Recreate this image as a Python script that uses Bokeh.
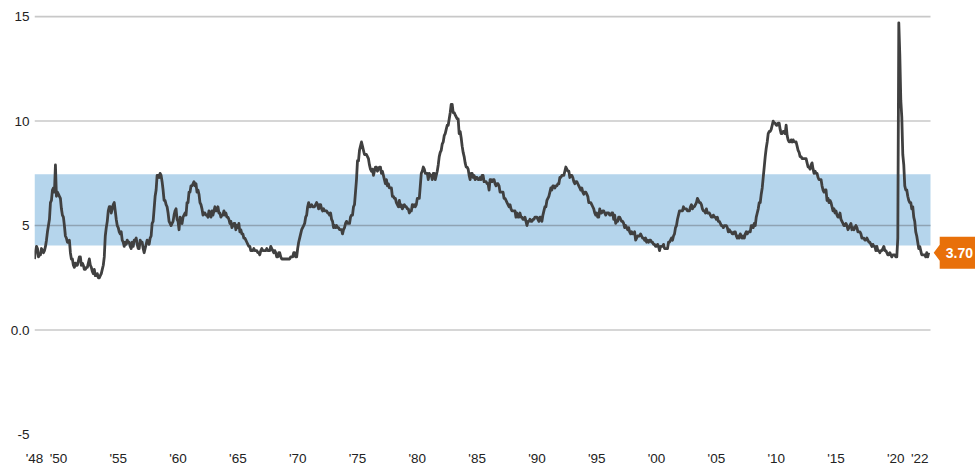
import numpy as np
from bokeh.plotting import figure
from bokeh.models import (Range1d, FixedTicker, BoxAnnotation, Label,
                          ColumnDataSource)
from bokeh.embed import file_html
from bokeh.resources import INLINE

# Monthly unemployment rate (%), Jan 1948 - Oct 2022
rate_1948_1949 = [3.4, 3.8, 4.0, 3.9, 3.5, 3.6, 3.6, 3.9, 3.8, 3.7, 3.8, 4.0,
                  4.3, 4.7, 5.0, 5.3, 6.1, 6.2, 6.7, 6.8, 6.6, 7.9, 6.4, 6.6]
rate_1950s = [6.5, 6.4, 6.3, 5.8, 5.5, 5.4, 5.0, 4.5, 4.4, 4.2, 4.2, 4.3,
              3.7, 3.4, 3.4, 3.1, 3.0, 3.2, 3.1, 3.1, 3.3, 3.5, 3.5, 3.1,
              3.2, 3.1, 2.9, 2.9, 3.0, 3.0, 3.2, 3.4, 3.1, 3.0, 2.8, 2.7,
              2.9, 2.6, 2.6, 2.7, 2.5, 2.5, 2.6, 2.7, 2.9, 3.1, 3.5, 4.5,
              4.9, 5.2, 5.7, 5.9, 5.9, 5.6, 5.8, 6.0, 6.1, 5.7, 5.3, 5.0,
              4.9, 4.7, 4.6, 4.7, 4.3, 4.2, 4.0, 4.2, 4.1, 4.3, 4.2, 4.2,
              4.0, 3.9, 4.2, 4.0, 4.3, 4.3, 4.4, 4.1, 3.9, 3.9, 4.3, 4.2,
              4.2, 3.9, 3.7, 3.9, 4.1, 4.3, 4.2, 4.1, 4.4, 4.5, 5.1, 5.2,
              5.8, 6.4, 6.7, 7.4, 7.4, 7.3, 7.5, 7.4, 7.1, 6.7, 6.2, 6.2,
              6.0, 5.9, 5.6, 5.2, 5.1, 5.0, 5.1, 5.2, 5.5, 5.7, 5.8, 5.3]
rate_1960s = [5.2, 4.8, 5.4, 5.2, 5.1, 5.4, 5.5, 5.6, 5.5, 6.1, 6.1, 6.6,
              6.6, 6.9, 6.9, 7.0, 7.1, 6.9, 7.0, 6.6, 6.7, 6.5, 6.1, 6.0,
              5.8, 5.5, 5.6, 5.6, 5.5, 5.5, 5.4, 5.7, 5.6, 5.4, 5.7, 5.5,
              5.7, 5.9, 5.7, 5.7, 5.9, 5.6, 5.6, 5.4, 5.5, 5.5, 5.7, 5.5,
              5.6, 5.4, 5.4, 5.3, 5.1, 5.2, 4.9, 5.0, 5.1, 5.1, 4.8, 5.0,
              4.9, 5.1, 4.7, 4.8, 4.6, 4.6, 4.4, 4.4, 4.3, 4.2, 4.1, 4.0,
              4.0, 3.8, 3.8, 3.8, 3.9, 3.8, 3.8, 3.8, 3.7, 3.7, 3.6, 3.8,
              3.9, 3.8, 3.8, 3.8, 3.8, 3.9, 3.8, 3.8, 3.8, 4.0, 3.9, 3.8,
              3.7, 3.8, 3.7, 3.5, 3.5, 3.7, 3.7, 3.5, 3.4, 3.4, 3.4, 3.4,
              3.4, 3.4, 3.4, 3.4, 3.4, 3.5, 3.5, 3.5, 3.7, 3.7, 3.5, 3.5]
rate_1970s = [3.9, 4.2, 4.4, 4.6, 4.8, 4.9, 5.0, 5.1, 5.4, 5.5, 5.9, 6.1,
              5.9, 5.9, 6.0, 5.9, 5.9, 5.9, 6.0, 6.1, 6.0, 5.8, 6.0, 6.0,
              5.8, 5.7, 5.8, 5.7, 5.7, 5.7, 5.6, 5.6, 5.5, 5.6, 5.3, 5.2,
              4.9, 5.0, 4.9, 5.0, 4.9, 4.9, 4.8, 4.8, 4.8, 4.6, 4.8, 4.9,
              5.1, 5.2, 5.1, 5.1, 5.1, 5.4, 5.5, 5.5, 5.9, 6.0, 6.6, 7.2,
              8.1, 8.1, 8.6, 8.8, 9.0, 8.8, 8.6, 8.4, 8.4, 8.4, 8.3, 8.2,
              7.9, 7.7, 7.6, 7.7, 7.4, 7.6, 7.8, 7.8, 7.6, 7.7, 7.8, 7.8,
              7.5, 7.6, 7.4, 7.2, 7.0, 7.2, 6.9, 7.0, 6.8, 6.8, 6.8, 6.4,
              6.4, 6.3, 6.3, 6.1, 6.0, 5.9, 6.2, 5.9, 6.0, 5.8, 5.9, 6.0,
              5.9, 5.9, 5.8, 5.8, 5.6, 5.7, 5.7, 6.0, 5.9, 6.0, 5.9, 6.0]
rate_1980s = [6.3, 6.3, 6.3, 6.9, 7.5, 7.6, 7.8, 7.7, 7.5, 7.5, 7.5, 7.2,
              7.5, 7.4, 7.4, 7.2, 7.5, 7.5, 7.2, 7.4, 7.6, 7.9, 8.3, 8.5,
              8.6, 8.9, 9.0, 9.3, 9.4, 9.6, 9.8, 9.8, 10.1, 10.4, 10.8, 10.8,
              10.4, 10.4, 10.3, 10.2, 10.1, 10.1, 9.4, 9.5, 9.2, 8.8, 8.5, 8.3,
              8.0, 7.8, 7.8, 7.7, 7.4, 7.2, 7.5, 7.5, 7.3, 7.4, 7.2, 7.3,
              7.3, 7.2, 7.2, 7.3, 7.2, 7.4, 7.4, 7.1, 7.1, 7.1, 7.0, 7.0,
              6.7, 7.2, 7.2, 7.1, 7.2, 7.2, 7.0, 6.9, 7.0, 7.0, 6.9, 6.6,
              6.6, 6.6, 6.6, 6.3, 6.3, 6.2, 6.1, 6.0, 5.9, 6.0, 5.8, 5.7,
              5.7, 5.7, 5.7, 5.4, 5.6, 5.4, 5.4, 5.6, 5.4, 5.4, 5.3, 5.3,
              5.4, 5.2, 5.0, 5.2, 5.2, 5.3, 5.2, 5.2, 5.3, 5.3, 5.4, 5.4]
rate_1990s = [5.4, 5.3, 5.2, 5.4, 5.4, 5.2, 5.5, 5.7, 5.9, 5.9, 6.2, 6.3,
              6.4, 6.6, 6.8, 6.7, 6.9, 6.9, 6.8, 6.9, 6.9, 7.0, 7.0, 7.3,
              7.3, 7.4, 7.4, 7.4, 7.6, 7.8, 7.7, 7.6, 7.6, 7.3, 7.4, 7.4,
              7.3, 7.1, 7.0, 7.1, 7.1, 7.0, 6.9, 6.8, 6.7, 6.8, 6.6, 6.5,
              6.6, 6.6, 6.5, 6.4, 6.1, 6.1, 6.1, 6.0, 5.9, 5.8, 5.6, 5.5,
              5.6, 5.4, 5.4, 5.8, 5.6, 5.6, 5.7, 5.7, 5.6, 5.5, 5.6, 5.6,
              5.6, 5.5, 5.5, 5.6, 5.6, 5.3, 5.5, 5.1, 5.2, 5.2, 5.4, 5.4,
              5.3, 5.2, 5.2, 5.1, 4.9, 5.0, 4.9, 4.8, 4.9, 4.7, 4.6, 4.7,
              4.6, 4.6, 4.7, 4.3, 4.4, 4.5, 4.5, 4.5, 4.6, 4.5, 4.4, 4.4,
              4.3, 4.4, 4.2, 4.3, 4.2, 4.3, 4.3, 4.2, 4.2, 4.1, 4.1, 4.0]
rate_2000s = [4.0, 4.1, 4.0, 3.8, 4.0, 4.0, 4.0, 4.1, 3.9, 3.9, 3.9, 3.9,
              4.2, 4.2, 4.3, 4.4, 4.3, 4.5, 4.6, 4.9, 5.0, 5.3, 5.5, 5.7,
              5.7, 5.7, 5.7, 5.9, 5.8, 5.8, 5.8, 5.7, 5.7, 5.7, 5.9, 6.0,
              5.8, 5.9, 5.9, 6.0, 6.1, 6.3, 6.2, 6.1, 6.1, 6.0, 5.8, 5.7,
              5.7, 5.6, 5.8, 5.6, 5.6, 5.6, 5.5, 5.4, 5.4, 5.5, 5.4, 5.4,
              5.3, 5.4, 5.2, 5.2, 5.1, 5.0, 5.0, 4.9, 5.0, 5.0, 5.0, 4.9,
              4.7, 4.8, 4.7, 4.7, 4.6, 4.6, 4.7, 4.7, 4.5, 4.4, 4.5, 4.4,
              4.6, 4.5, 4.4, 4.5, 4.4, 4.6, 4.7, 4.6, 4.7, 4.7, 4.7, 5.0,
              5.0, 4.9, 5.1, 5.0, 5.4, 5.6, 5.8, 6.1, 6.1, 6.5, 6.8, 7.3,
              7.8, 8.3, 8.7, 9.0, 9.4, 9.5, 9.5, 9.6, 9.8, 10.0, 9.9, 9.9]
rate_2010s = [9.8, 9.8, 9.9, 9.9, 9.6, 9.4, 9.4, 9.5, 9.5, 9.4, 9.8, 9.3,
              9.1, 9.0, 9.0, 9.1, 9.0, 9.1, 9.0, 9.0, 9.0, 8.8, 8.6, 8.5,
              8.3, 8.3, 8.2, 8.2, 8.2, 8.2, 8.2, 8.0, 7.8, 7.8, 7.7, 7.9,
              8.0, 7.7, 7.5, 7.6, 7.5, 7.5, 7.3, 7.2, 7.2, 7.2, 6.9, 6.7,
              6.6, 6.7, 6.7, 6.2, 6.3, 6.1, 6.2, 6.1, 5.9, 5.7, 5.8, 5.6,
              5.7, 5.5, 5.4, 5.4, 5.6, 5.3, 5.2, 5.1, 5.0, 5.0, 5.1, 5.0,
              4.8, 4.9, 5.0, 5.1, 4.8, 4.9, 4.8, 4.9, 5.0, 4.9, 4.7, 4.7,
              4.7, 4.6, 4.4, 4.4, 4.4, 4.3, 4.3, 4.4, 4.3, 4.2, 4.2, 4.1,
              4.0, 4.1, 4.0, 4.0, 3.8, 4.0, 3.8, 3.8, 3.7, 3.8, 3.8, 3.9,
              4.0, 3.8, 3.8, 3.7, 3.6, 3.6, 3.7, 3.6, 3.5, 3.6, 3.6, 3.6]
rate_2020s = [3.5, 3.5, 4.4, 14.7, 13.2, 11.0, 10.2, 8.4, 7.9, 6.9, 6.7, 6.7,
              6.4, 6.2, 6.1, 6.1, 5.8, 5.9, 5.4, 5.2, 4.7, 4.5, 4.2, 3.9,
              4.0, 3.8, 3.6, 3.6, 3.6, 3.6, 3.5, 3.7, 3.5, 3.7]

start_year = 1948
band_low, band_high = 4.04, 7.46      # shaded range
reference_level = 5

x_ticks = [1948, 1950, 1955, 1960, 1965, 1970, 1975, 1980, 1985, 1990,
           1995, 2000, 2005, 2010, 2015, 2020, 2022]
x_tick_labels = ["'48", "'50", "'55", "'60", "'65", "'70", "'75", "'80", "'85",
                 "'90", "'95", "'00", "'05", "'10", "'15", "'20", "'22"]
y_ticks = [-5, 0, 5, 10, 15]
y_tick_labels = ["-5", "0.0", "5", "10", "15"]
grid_ticks = [0, 10, 15]

values = np.array(rate_1948_1949 + rate_1950s + rate_1960s + rate_1970s +
                  rate_1980s + rate_1990s + rate_2000s + rate_2010s + rate_2020s)
xs = start_year + np.arange(len(values)) / 12.0
src = ColumnDataSource(dict(x=xs, y=values))

# geometry
W, H = 975, 470
BL, BR, BT, BB = 34, 0, 14, 36
ppx = 896 / 74.9                       # pixels per year
x0 = 1948.0
grid_end = 2022.9                      # where gridlines / band stop
x1 = x0 + (W - BL - BR) / ppx
y0, y1 = -5.0, 15.1
FONT = "Liberation Sans"

p = figure(width=W, height=H, output_backend="svg", toolbar_location=None,
           x_range=Range1d(x0, x1), y_range=Range1d(y0, y1),
           min_border_left=BL, min_border_right=BR, min_border_top=BT,
           min_border_bottom=BB)
p.outline_line_color = None
p.background_fill_color = "white"
p.border_fill_color = "white"
p.xgrid.visible = False
p.ygrid.visible = False

band = BoxAnnotation(left=x0, right=grid_end, bottom=band_low, top=band_high,
                     fill_color="#b5d5ec", fill_alpha=1.0, line_color=None,
                     level="underlay")
p.add_layout(band)

grid_src = ColumnDataSource(dict(y=grid_ticks))
p.segment(x0=x0, x1=grid_end, y0="y", y1="y", source=grid_src,
          line_color="#c8c8c8", line_width=1.6)
p.segment(x0=[x0], x1=[grid_end], y0=[reference_level], y1=[reference_level],
          line_color="#8fa3b3", line_width=1.6)

p.line("x", "y", source=src, line_color="#404040", line_width=2.8,
       line_join="round")

for ax in (p.xaxis[0], p.yaxis[0]):
    ax.axis_line_color = None
    ax.major_tick_line_color = None
    ax.minor_tick_line_color = None
    ax.major_label_text_font = FONT
    ax.major_label_text_font_size = "13.5px"
    ax.major_label_text_color = "#222222"

p.xaxis.ticker = FixedTicker(ticks=x_ticks)
p.xaxis.major_label_overrides = {t: l for t, l in zip(x_ticks, x_tick_labels)}
p.xaxis.major_label_standoff = 10
p.yaxis.ticker = FixedTicker(ticks=y_ticks)
p.yaxis.major_label_overrides = {t: l for t, l in zip(y_ticks, y_tick_labels)}
p.yaxis.major_tick_out = 0
p.yaxis.major_tick_in = 0
p.yaxis.major_label_standoff = 5

# callout for the last value
last_x, last_y = xs[-1], values[-1]
ppy = (H - BT - BB) / (y1 - y0)

def dx(px):
    return last_x + px / ppx

def dy(px):
    return last_y + px / ppy

p.patch(x=[dx(5), dx(11), dx(11), dx(60), dx(60), dx(11), dx(11)],
        y=[dy(0), dy(8), dy(16), dy(16), dy(-16), dy(-16), dy(-8)],
        fill_color="#e8700a", line_color=None)
p.add_layout(Label(x=last_x, y=last_y, x_offset=17, y_offset=0,
                   text=f"{last_y:.2f}", text_baseline="middle",
                   text_color="white", text_font=FONT,
                   text_font_style="bold", text_font_size="14px"))

open("out.html", "w").write(file_html(p, INLINE))
